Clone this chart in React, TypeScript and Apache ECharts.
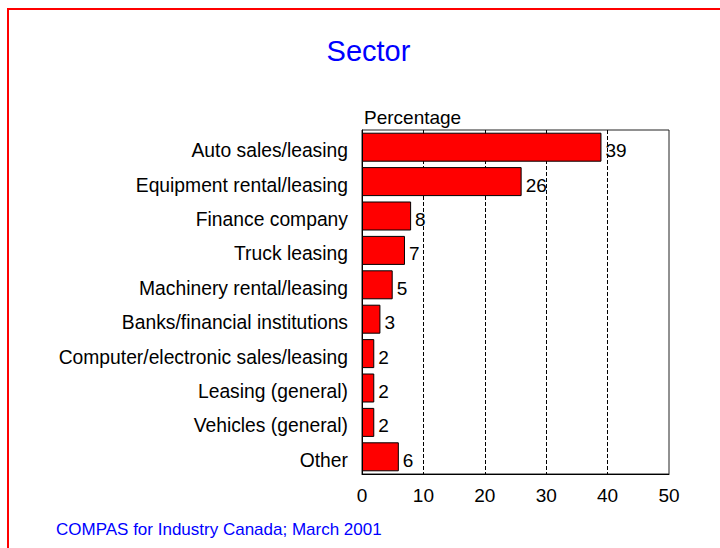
import React, { useEffect, useRef } from "react";
import * as echarts from "echarts";

const categories = [
  "Auto sales/leasing",
  "Equipment rental/leasing",
  "Finance company",
  "Truck leasing",
  "Machinery rental/leasing",
  "Banks/financial institutions",
  "Computer/electronic sales/leasing",
  "Leasing (general)",
  "Vehicles (general)",
  "Other",
];
const values = [39, 26, 8, 7, 5, 3, 2, 2, 2, 6];
const titleText = "Sector";
const axisTitle = "Percentage";
const sourceText = "COMPAS for Industry Canada; March 2001";

const FONT = "'Liberation Sans', Arial, Helvetica, sans-serif";

export default function App() {
  const ref = useRef<HTMLDivElement>(null);
  useEffect(() => {
    if (!ref.current) return;
    const chart = echarts.init(ref.current, null, { renderer: "svg" });
    chart.setOption({
      animation: false,
      backgroundColor: "#ffffff",
      textStyle: { fontFamily: FONT },
      graphic: [
        {
          type: "rect",
          shape: { x: 8, y: 9, width: 900, height: 700 },
          style: { fill: "none", stroke: "#ff0000", lineWidth: 2 },
          silent: true,
        },
        {
          type: "text",
          x: 368.5,
          y: 51,
          style: {
            text: titleText,
            fill: "#0000ff",
            font: `29px ${FONT}`,
            align: "center",
            verticalAlign: "middle",
          },
        },
        {
          type: "text",
          x: 364,
          y: 117,
          style: {
            text: axisTitle,
            fill: "#000000",
            font: `19px ${FONT}`,
            align: "left",
            verticalAlign: "middle",
          },
        },
        {
          type: "text",
          x: 56,
          y: 529,
          style: {
            text: sourceText,
            fill: "#0000ff",
            font: `17px ${FONT}`,
            align: "left",
            verticalAlign: "middle",
          },
        },
      ],
      grid: {
        left: 362,
        right: 51,
        top: 130,
        bottom: 74,
        show: true,
        borderColor: "#222222",
        borderWidth: 1,
        backgroundColor: "transparent",
      },
      xAxis: {
        type: "value",
        min: 0,
        max: 50,
        interval: 10,
        axisLine: { show: true, lineStyle: { color: "#000000", width: 1 } },
        axisTick: { show: false },
        axisLabel: {
          color: "#000000",
          fontSize: 19,
          fontFamily: FONT,
          margin: 12,
          showMaxLabel: true,
          showMinLabel: true,
        },
        splitLine: {
          show: true,
          showMinLine: false,
          showMaxLine: false,
          lineStyle: { color: "#000000", type: [4, 2], width: 1 },
        },
      },
      yAxis: {
        type: "category",
        data: categories,
        inverse: true,
        axisLine: { show: true, lineStyle: { color: "#000000", width: 1 } },
        axisTick: { show: false },
        axisLabel: {
          margin: 14,
          formatter: (v: string) => `{c|${v}}`,
          rich: {
            c: {
              color: "#000000",
              fontSize: 19.3,
              fontFamily: FONT,
              lineHeight: 22,
              padding: [7, 0, 0, 0],
            },
          },
        },
        splitLine: { show: false },
      },
      series: [
        {
          type: "bar",
          data: values,
          barWidth: 29,
          itemStyle: { color: "#ff0000", borderColor: "#000000", borderWidth: 1 },
          label: {
            show: true,
            position: "right",
            distance: 4,
            color: "#000000",
            fontSize: 19,
            fontFamily: FONT,
            offset: [0, 3.5],
          },
        },
      ],
    });
    return () => chart.dispose();
  }, []);
  return (
    <div
      ref={ref}
      style={{ position: "absolute", left: 0, top: 0, width: 720, height: 548 }}
    />
  );
}
